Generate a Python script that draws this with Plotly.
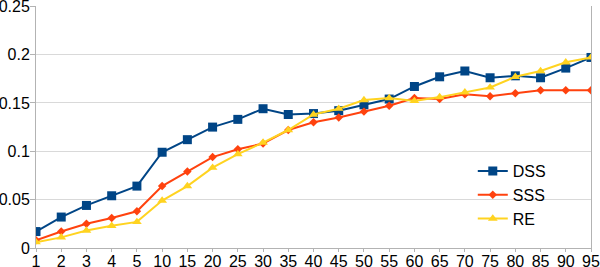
import plotly.graph_objects as go

categories = ["1", "2", "3", "4", "5", "10", "15", "20", "25", "30", "35", "40",
              "45", "50", "55", "60", "65", "70", "75", "80", "85", "90", "95"]
dss = [0.017, 0.032, 0.044, 0.054, 0.064, 0.099, 0.112, 0.125, 0.133, 0.144, 0.138, 0.139,
       0.142, 0.148, 0.154, 0.167, 0.177, 0.183, 0.176, 0.178, 0.176, 0.186, 0.197]
sss = [0.008, 0.017, 0.025, 0.031, 0.038, 0.064, 0.079, 0.094, 0.102, 0.108, 0.122, 0.130,
       0.135, 0.141, 0.147, 0.155, 0.154, 0.159, 0.157, 0.160, 0.163, 0.163, 0.163]
re = [0.006, 0.011, 0.018, 0.023, 0.027, 0.049, 0.064, 0.083, 0.097, 0.109, 0.122, 0.138,
      0.144, 0.153, 0.155, 0.152, 0.156, 0.161, 0.166, 0.177, 0.183, 0.192, 0.197]
y_ticks = [0, 0.05, 0.1, 0.15, 0.2, 0.25]
y_tick_labels = ["0", "0.05", "0.1", "0.15", "0.2", "0.25"]

fig = go.Figure()
fig.add_trace(go.Scatter(x=categories, y=dss, name="DSS", mode="lines+markers",
                         line=dict(color="#004586", width=2),
                         marker=dict(symbol="square", size=9, color="#004586")))
fig.add_trace(go.Scatter(x=categories, y=sss, name="SSS", mode="lines+markers",
                         line=dict(color="#ff420e", width=2),
                         marker=dict(symbol="diamond", size=6.5, color="#ff420e")))
fig.add_trace(go.Scatter(x=categories, y=re, name="RE", mode="lines+markers",
                         line=dict(color="#ffd320", width=2),
                         marker=dict(symbol="triangle-up", size=8.5, color="#ffd320")))

fig.update_layout(
    width=600, height=267,
    margin=dict(l=36, r=9, t=6, b=19),
    paper_bgcolor="white", plot_bgcolor="white",
    font=dict(family="Liberation Sans, Arial, sans-serif", size=16, color="black"),
    showlegend=True,
    legend=dict(x=0.787, y=0.388, xanchor="left", yanchor="top",
                font=dict(size=16), bgcolor="rgba(0,0,0,0)",
                tracegroupgap=0, itemwidth=30),
    xaxis=dict(type="category", range=[0, 22], showgrid=False,
               showline=True, linecolor="#b3b3b3", linewidth=1,
               ticks="outside", ticklen=3, tickcolor="#b3b3b3",
               ticklabelstandoff=-4, ticklabeloverflow="allow",
               tickfont=dict(size=16), zeroline=False, automargin=False),
    yaxis=dict(range=[0, 0.2502], tickvals=y_ticks, ticktext=y_tick_labels,
               showgrid=True, gridcolor="#d9d9d9", gridwidth=1,
               showline=True, linecolor="#b3b3b3", linewidth=1, mirror=True,
               ticks="outside", ticklen=5, tickcolor="#b3b3b3",
               ticklabelstandoff=-3, ticklabeloverflow="allow",
               tickfont=dict(size=16), zeroline=False, automargin=False),
)

fig.write_html("out.html", config={"displayModeBar": False},
               post_script="document.body.style.margin='0';document.body.style.overflow='hidden';")
